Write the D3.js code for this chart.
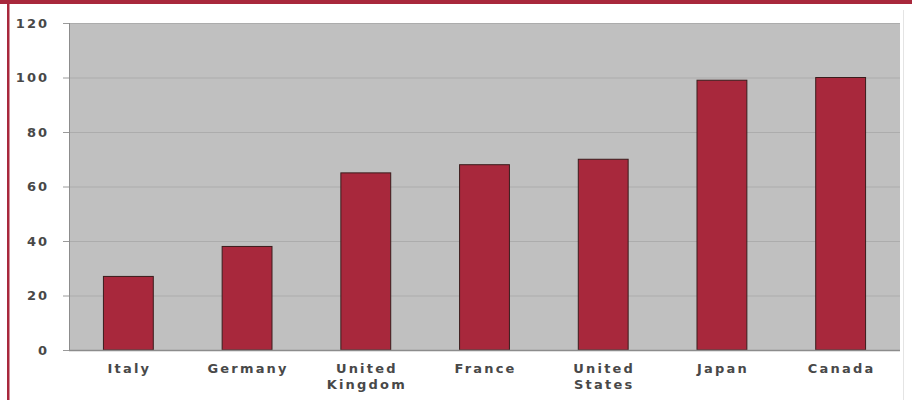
<!DOCTYPE html>
<html><head><meta charset="utf-8">
<script src="https://cdn.jsdelivr.net/npm/d3@7"></script>
<style>body{margin:0;background:#fff}svg{display:block}</style>
</head><body>
<svg id="c" width="912" height="400"></svg>
<script>
const categories = [["Italy"],["Germany"],["United","Kingdom"],["France"],["United","States"],["Japan"],["Canada"]];
const values = [27, 38, 65, 68, 70, 99, 100];
const yTicks = [0, 20, 40, 60, 80, 100, 120];

const svg = d3.select("#c");
svg.append("rect").attr("x",0).attr("y",0).attr("width",912).attr("height",4).attr("fill","#a8283c");
svg.append("rect").attr("x",7).attr("y",0).attr("width",2.5).attr("height",400).attr("fill","#a8283c");
svg.append("line").attr("x1",903.5).attr("x2",903.5).attr("y1",10).attr("y2",400).attr("stroke","#e4e4e4");

const m = {l:69, r:900, t:23, b:350};
const keys = categories.map(d=>d.join(" "));
const x = d3.scaleBand().domain(keys).range([m.l,m.r]).paddingInner(0.58).paddingOuter(0.29);
const y = d3.scaleLinear().domain([0,120]).range([m.b,m.t]);

svg.append("rect").attr("x",m.l).attr("y",m.t).attr("width",m.r-m.l).attr("height",m.b-m.t).attr("fill","#c0c0c0");
svg.append("g").selectAll("line").data(yTicks.filter(d=>d>0)).join("line")
  .attr("x1",m.l).attr("x2",m.r).attr("y1",d=>y(d)+0.5).attr("y2",d=>y(d)+0.5)
  .attr("stroke","#acacac").attr("stroke-width",1);
svg.append("line").attr("x1",m.l+0.5).attr("x2",m.l+0.5).attr("y1",m.t).attr("y2",m.b).attr("stroke","#8c8c8c");

svg.append("g").selectAll("rect").data(values).join("rect")
  .attr("x",(d,i)=>x(keys[i])).attr("width",x.bandwidth())
  .attr("y",d=>y(d)).attr("height",d=>m.b-y(d))
  .attr("fill","#a8283c").attr("stroke","#3a1c1c").attr("stroke-width",1);

const FONT = "DejaVu Sans, Verdana, sans-serif";
const yAxis = d3.axisLeft(y).tickValues(yTicks).tickSize(6).tickPadding(14);
const gy = svg.append("g").attr("transform",`translate(${m.l},0)`).call(yAxis);
gy.select(".domain").remove();
gy.selectAll(".tick line").attr("stroke","#9a9a9a");
gy.selectAll("text").attr("font-family",FONT).attr("font-size",13).attr("font-weight","bold")
  .attr("fill","#484848").attr("letter-spacing",2);

svg.append("line").attr("x1",m.l).attr("x2",m.r).attr("y1",m.b+0.5).attr("y2",m.b+0.5).attr("stroke","#8c8c8c").attr("stroke-width",1.5);

const lab = svg.append("g");
categories.forEach((c,i)=>{
  const cx = x(keys[i])+x.bandwidth()/2 + 1;
  const t = lab.append("text").attr("x",cx).attr("y",373)
    .attr("text-anchor","middle").attr("font-family",FONT)
    .attr("font-size",13).attr("font-weight","bold").attr("fill","#484848").attr("letter-spacing",2.2);
  c.forEach((w,j)=>t.append("tspan").attr("x",cx).attr("dy",j?15.5:0).text(w));
});
</script>
</body></html>
